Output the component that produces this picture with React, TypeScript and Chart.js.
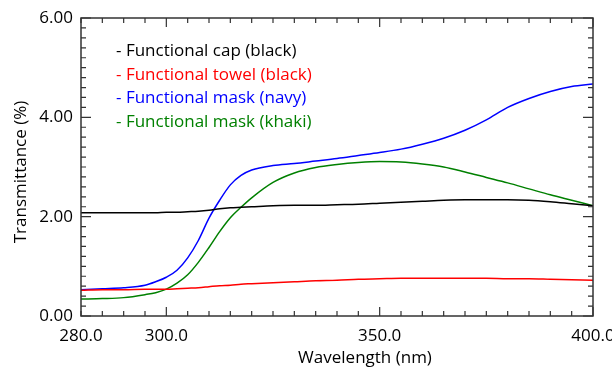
import React, { useEffect, useRef } from "react";
import { Chart, registerables } from "chart.js";

Chart.register(...registerables);

const wavelengths = [280, 285, 290, 295, 297.5, 300, 302.5, 305, 307.5, 310, 312.5, 315, 317.5, 320, 325, 330, 335, 340, 345, 350, 355, 360, 365, 370, 375, 380, 385, 390, 395, 400];

const capBlack = [2.08, 2.08, 2.08, 2.08, 2.08, 2.09, 2.09, 2.1, 2.11, 2.13, 2.16, 2.18, 2.19, 2.2, 2.22, 2.23, 2.23, 2.24, 2.25, 2.27, 2.29, 2.31, 2.33, 2.34, 2.34, 2.34, 2.33, 2.3, 2.26, 2.22];
const towelBlack = [0.52, 0.53, 0.53, 0.54, 0.54, 0.54, 0.55, 0.56, 0.57, 0.59, 0.61, 0.62, 0.64, 0.65, 0.67, 0.69, 0.71, 0.72, 0.74, 0.75, 0.76, 0.76, 0.76, 0.76, 0.76, 0.75, 0.75, 0.74, 0.73, 0.72];
const maskNavy = [0.53, 0.55, 0.57, 0.62, 0.69, 0.78, 0.92, 1.17, 1.52, 1.97, 2.33, 2.64, 2.83, 2.94, 3.03, 3.07, 3.12, 3.17, 3.23, 3.29, 3.36, 3.46, 3.58, 3.74, 3.95, 4.2, 4.38, 4.52, 4.62, 4.67];
const maskKhaki = [0.34, 0.35, 0.37, 0.43, 0.47, 0.54, 0.66, 0.83, 1.08, 1.38, 1.7, 1.98, 2.19, 2.38, 2.69, 2.88, 2.99, 3.05, 3.09, 3.11, 3.1, 3.06, 3.0, 2.9, 2.79, 2.68, 2.56, 2.44, 2.33, 2.22];

const seriesLabels = ["Functional cap (black)", "Functional towel (black)", "Functional mask (navy)", "Functional mask (khaki)"];
const seriesColors = ["#000000", "#ff0000", "#0000ff", "#008000"];
const xTickValues = [280, 300, 350, 400];
const yTickValues = [0, 2, 4, 6];

const FONT = "'Open Sans', sans-serif";

const decorPlugin = {
  id: "decor",
  afterDraw(chart: any) {
    const { ctx, chartArea } = chart;
    const xs = chart.scales.x;
    const ys = chart.scales.y;
    const { left, right, top, bottom } = chartArea;
    ctx.save();
    ctx.strokeStyle = "#333";
    ctx.lineWidth = 1.5;
    ctx.strokeRect(left, top, right - left, bottom - top);
    ctx.lineWidth = 1.2;
    ctx.beginPath();
    for (let v = 280; v <= 400; v += 5) {
      const px = xs.getPixelForValue(v);
      const len = v % 50 === 0 ? 9 : 5;
      ctx.moveTo(px, bottom);
      ctx.lineTo(px, bottom - len);
      ctx.moveTo(px, top);
      ctx.lineTo(px, top + len);
    }
    for (let i = 0; i <= 30; i++) {
      const v = i * 0.2;
      const py = ys.getPixelForValue(v);
      const len = i % 10 === 0 ? 10 : 5;
      ctx.moveTo(left, py);
      ctx.lineTo(left + len, py);
      ctx.moveTo(right, py);
      ctx.lineTo(right - len, py);
    }
    ctx.stroke();

    // legend
    ctx.font = "17px " + FONT;
    ctx.textBaseline = "middle";
    ctx.textAlign = "left";
    seriesLabels.forEach((lab, i) => {
      ctx.fillStyle = seriesColors[i];
      ctx.fillText("- " + lab, 116, 51 + i * 23.7);
    });

    // axis titles
    ctx.fillStyle = "#000";
    ctx.textAlign = "center";
    ctx.fillText("Wavelength (nm)", 365, 358);
    ctx.translate(21, 172);
    ctx.rotate(-Math.PI / 2);
    ctx.fillText("Transmittance (%)", 0, 0);
    ctx.restore();
  },
};

export default function App() {
  const ref = useRef<HTMLCanvasElement>(null);
  useEffect(() => {
    document.body.style.margin = "0";
    const mk = (vals: number[]) => wavelengths.map((w, i) => ({ x: w, y: vals[i] }));
    const all = [capBlack, towelBlack, maskNavy, maskKhaki];
    const chart = new Chart(ref.current!, {
      type: "line",
      data: {
        datasets: all.map((vals, i) => ({
          label: seriesLabels[i],
          data: mk(vals),
          borderColor: seriesColors[i],
          backgroundColor: seriesColors[i],
          borderWidth: 1.5,
          pointRadius: 0,
          cubicInterpolationMode: "monotone" as const,
          fill: false,
        })),
      },
      options: {
        responsive: false,
        animation: false,
        layout: { padding: { left: 0, right: 19, top: 18, bottom: 0 } },
        plugins: { legend: { display: false }, tooltip: { enabled: false } },
        scales: {
          x: {
            type: "linear",
            min: 280,
            max: 400,
            afterBuildTicks: (s: any) => {
              s.ticks = xTickValues.map((v) => ({ value: v }));
            },
            afterFit: (s: any) => {
              s.height = 51;
              s.paddingLeft = 0;
              s.paddingRight = 0;
            },
            ticks: {
              callback: (v: any) => Number(v).toFixed(1),
              font: { family: FONT, size: 17 },
              color: "#000",
              padding: 10,
              maxRotation: 0,
              autoSkip: false,
            },
            grid: { display: false, drawTicks: false },
            border: { display: false },
          },
          y: {
            type: "linear",
            min: 0,
            max: 6,
            afterBuildTicks: (s: any) => {
              s.ticks = yTickValues.map((v) => ({ value: v }));
            },
            afterFit: (s: any) => {
              s.width = 81;
              s.paddingTop = 0;
              s.paddingBottom = 0;
            },
            ticks: {
              callback: (v: any) => Number(v).toFixed(2),
              font: { family: FONT, size: 17 },
              color: "#000",
              padding: 8,
            },
            grid: { display: false, drawTicks: false },
            border: { display: false },
          },
        },
      },
      plugins: [decorPlugin],
    });
    return () => chart.destroy();
  }, []);
  return (
    <div style={{ width: 612, height: 367 }}>
      <canvas ref={ref} width={612} height={367} style={{ display: "block" }} />
    </div>
  );
}
